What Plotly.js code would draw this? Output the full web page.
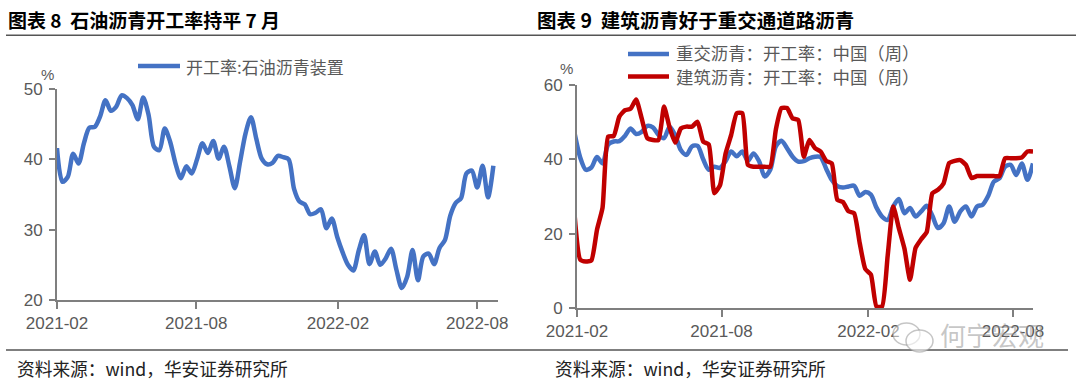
<!DOCTYPE html>
<html><head><meta charset="utf-8">
<script src="https://cdn.plot.ly/plotly-3.0.1.min.js"></script>
<style>html,body{margin:0;padding:0;background:#fff;} #chart{width:1080px;height:385px;}</style>
</head><body><div id="chart"></div>
<script>
// ---- Chart 8: weekly dates and values ----
const leftDates = [
'2021-02-01','2021-02-08','2021-02-15','2021-02-22','2021-03-01','2021-03-08','2021-03-15','2021-03-22','2021-03-29','2021-04-05',
'2021-04-12','2021-04-19','2021-04-26','2021-05-03','2021-05-10','2021-05-17','2021-05-24','2021-05-31','2021-06-07','2021-06-14',
'2021-06-21','2021-06-28','2021-07-05','2021-07-12','2021-07-19','2021-07-26','2021-08-02','2021-08-09','2021-08-16','2021-08-23',
'2021-08-30','2021-09-06','2021-09-13','2021-09-20','2021-09-27','2021-10-04','2021-10-11','2021-10-18','2021-10-25','2021-11-01',
'2021-11-08','2021-11-15','2021-11-22','2021-11-29','2021-12-06','2021-12-13','2021-12-20','2021-12-27','2022-01-03','2022-01-10',
'2022-01-17','2022-01-24','2022-01-31','2022-02-07','2022-02-14','2022-02-21','2022-02-28','2022-03-07','2022-03-14','2022-03-21',
'2022-03-28','2022-04-04','2022-04-11','2022-04-18','2022-04-25','2022-05-02','2022-05-09','2022-05-16','2022-05-23','2022-05-30',
'2022-06-06','2022-06-13','2022-06-20','2022-06-27','2022-07-04','2022-07-11','2022-07-18','2022-07-25','2022-08-01','2022-08-08',
'2022-08-15','2022-08-22'];
const petroRate = [
41.6,36.8,37.5,40.8,39.4,42.3,44.5,44.6,46.1,48.4,
46.9,47.5,49.1,48.7,47.7,45.7,48.8,46.3,41.8,41.3,
44.4,42.5,39.4,37.3,39.0,38.0,40.0,42.3,40.9,42.6,
40.1,41.8,39.0,35.9,39.7,43.7,46.0,42.9,40.1,39.3,
39.5,40.5,40.3,40.0,35.8,34.0,33.6,32.2,32.4,32.9,
30.2,31.6,29.0,26.8,25.0,24.2,27.0,29.2,25.1,26.9,
25.0,25.9,27.3,24.3,21.7,23.3,27.1,22.8,26.2,26.6,
25.1,27.4,28.5,32.0,33.8,34.5,38.0,38.4,36.0,39.1,
34.6,39.1];

// ---- Chart 9: weekly dates and values ----
const rightDates = [
'2021-01-29','2021-02-05','2021-02-12','2021-02-19','2021-02-26','2021-03-05','2021-03-12','2021-03-19','2021-03-26','2021-04-02',
'2021-04-09','2021-04-16','2021-04-23','2021-04-30','2021-05-07','2021-05-14','2021-05-21','2021-05-28','2021-06-04','2021-06-11',
'2021-06-18','2021-06-25','2021-07-02','2021-07-09','2021-07-16','2021-07-23','2021-07-30','2021-08-06','2021-08-13','2021-08-20',
'2021-08-27','2021-09-03','2021-09-10','2021-09-17','2021-09-24','2021-10-01','2021-10-08','2021-10-15','2021-10-22','2021-10-29',
'2021-11-05','2021-11-12','2021-11-19','2021-11-26','2021-12-03','2021-12-10','2021-12-17','2021-12-24','2021-12-31','2022-01-07',
'2022-01-14','2022-01-21','2022-01-28','2022-02-04','2022-02-11','2022-02-18','2022-02-25','2022-03-04','2022-03-11','2022-03-18',
'2022-03-25','2022-04-01','2022-04-08','2022-04-15','2022-04-22','2022-04-29','2022-05-06','2022-05-13','2022-05-20','2022-05-27',
'2022-06-03','2022-06-10','2022-06-17','2022-06-24','2022-07-01','2022-07-08','2022-07-15','2022-07-22','2022-07-29','2022-08-05',
'2022-08-12','2022-08-19','2022-08-26'];
const heavyRate = [
47.0,40.5,37.2,37.8,40.6,38.9,44.0,44.8,44.9,46.3,
48.3,46.8,47.4,49.0,48.6,46.6,45.7,48.8,46.5,42.5,
41.2,43.5,43.6,40.0,37.2,38.0,37.7,39.5,42.1,40.8,
42.1,39.6,41.6,39.5,35.4,37.2,43.5,45.0,43.0,40.7,
39.4,39.5,40.3,40.7,40.6,37.5,34.5,32.8,32.4,32.7,
32.9,30.2,31.2,30.5,27.0,24.6,23.7,27.3,29.3,25.5,
26.9,24.6,26.0,27.5,24.8,21.5,22.8,27.3,23.2,26.0,
27.3,24.6,27.3,27.8,30.2,34.0,34.9,38.0,38.5,35.8,
38.9,34.5,38.9];
const buildRate = [
25.0,13.0,12.5,12.8,21.0,27.0,46.1,46.3,51.5,53.2,
53.6,56.1,51.0,45.7,45.2,45.2,54.2,48.5,44.5,48.3,
48.8,48.8,50.1,44.8,44.0,30.9,33.0,41.5,46.5,52.4,
52.4,38.5,38.0,38.0,38.0,38.0,48.0,53.8,53.8,51.0,
50.6,40.7,45.2,43.0,42.1,39.6,38.9,29.1,28.5,26.0,
25.5,17.5,10.5,9.0,0.4,0.4,14.0,27.3,21.5,16.0,
7.6,16.2,18.5,20.5,30.9,31.8,33.5,39.0,39.6,39.8,
38.5,35.0,35.5,35.5,35.5,35.5,35.5,40.3,40.3,40.3,
40.5,42.1,42.1];

const tickVals = ['2021-02-01','2021-08-01','2022-02-01','2022-08-01'];
const tickText = ['2021-02','2021-08','2022-02','2022-08'];
const leftTitle = '图表 8  石油沥青开工率持平 7 月';
const rightTitle = '图表 9  建筑沥青好于重交通道路沥青';
const leftName = '开工率:石油沥青装置';
const heavyName = '重交沥青：开工率：中国（周）';
const buildName = '建筑沥青：开工率：中国（周）';
const sourceText = '资料来源：wind，华安证券研究所';

const W = 1080, H = 385;
const px = x => x / W, py = y => 1 - y / H;
const BLUE = '#4472C4', RED = '#C00000', AX = '#7f7f7f', TXT = '#595959';
const CJK = '"Noto Sans CJK SC", sans-serif';
const LAT = '"Liberation Sans", Arial, sans-serif';

const traces = [
  {x: leftDates, y: petroRate, type: 'scatter', mode: 'lines', xaxis: 'x', yaxis: 'y',
   line: {color: BLUE, width: 4.5, shape: 'spline', smoothing: 0.8}, name: leftName, showlegend: false},
  {x: rightDates, y: heavyRate, type: 'scatter', mode: 'lines', xaxis: 'x2', yaxis: 'y2',
   line: {color: BLUE, width: 4.5, shape: 'spline', smoothing: 0.8}, name: heavyName, showlegend: false},
  {x: rightDates, y: buildRate, type: 'scatter', mode: 'lines', xaxis: 'x2', yaxis: 'y2',
   line: {color: RED, width: 4.5, shape: 'spline', smoothing: 0.5}, name: buildName, showlegend: false}
];

const xCommon = {type: 'date', tickmode: 'array', tickvals: tickVals, ticktext: tickText,
  showgrid: false, zeroline: false, showline: true, linecolor: AX, linewidth: 2,
  ticks: 'outside', ticklen: 7, tickwidth: 2, tickcolor: AX,
  tickfont: {family: LAT, size: 17, color: TXT}, ticklabelstandoff: 0, fixedrange: true};
const yCommon = {showgrid: false, zeroline: false, showline: true, linecolor: AX, linewidth: 2,
  ticks: 'outside', ticklen: 6, tickwidth: 2, tickcolor: AX,
  tickfont: {family: LAT, size: 17, color: TXT}, ticklabelstandoff: 3, fixedrange: true};

const ann = (text, x, y, size, color, extra) => Object.assign({
  text, x: px(x), y: py(y), xref: 'paper', yref: 'paper', xanchor: 'left', yanchor: 'middle',
  showarrow: false, font: {family: CJK, size, color}, borderpad: 0}, extra || {});

const layout = {
  width: W, height: H, margin: {l: 0, r: 0, t: 0, b: 0},
  paper_bgcolor: '#fff', plot_bgcolor: '#fff', showlegend: false,
  xaxis: Object.assign({}, xCommon, {domain: [px(57), px(498)], range: ['2021-02-01', '2022-08-28'], anchor: 'y'}),
  yaxis: Object.assign({}, yCommon, {domain: [py(300), py(89)], range: [20, 50], dtick: 10, anchor: 'x'}),
  xaxis2: Object.assign({}, xCommon, {domain: [px(577), px(1033)], range: ['2021-02-01', '2022-08-26'], anchor: 'y2'}),
  yaxis2: Object.assign({}, yCommon, {domain: [py(308), py(85)], range: [0, 60], dtick: 20, anchor: 'x2'}),
  shapes: [
    {type: 'line', xref: 'paper', yref: 'paper', x0: px(6), x1: px(1076), y0: py(35.3), y1: py(35.3), line: {color: '#555', width: 1.5}},
    {type: 'line', xref: 'paper', yref: 'paper', x0: px(6), x1: px(1068), y0: py(350), y1: py(350), line: {color: '#555', width: 1.5}},
    {type: 'line', xref: 'paper', yref: 'paper', x0: px(138), x1: px(180), y0: py(66), y1: py(66), line: {color: BLUE, width: 4.5}},
    {type: 'line', xref: 'paper', yref: 'paper', x0: px(628), x1: px(669), y0: py(54), y1: py(54), line: {color: BLUE, width: 4.5}},
    {type: 'line', xref: 'paper', yref: 'paper', x0: px(628), x1: px(669), y0: py(76.5), y1: py(76.5), line: {color: RED, width: 4.5}},
    {type: 'circle', xref: 'paper', yref: 'paper', x0: px(893), x1: px(920), y0: py(345), y1: py(323), line: {color: 'rgba(150,150,150,0.55)', width: 1.5}, fillcolor: 'rgba(255,255,255,0.5)'},
    {type: 'circle', xref: 'paper', yref: 'paper', x0: px(906), x1: px(933), y0: py(352), y1: py(330), line: {color: 'rgba(150,150,150,0.55)', width: 1.5}, fillcolor: 'rgba(255,255,255,0.6)'}
  ],
  annotations: [
    ann('<b>' + leftTitle + '</b>', 7, 19.5, 19, '#000'),
    ann('<b>' + rightTitle + '</b>', 536, 19.5, 19.5, '#000'),
    ann(leftName, 185, 66, 17, TXT),
    ann(heavyName, 675, 53, 17.4, TXT),
    ann(buildName, 675, 76, 17.4, TXT),
    ann('%', 40, 74, 15, TXT, {font: {family: LAT, size: 15, color: TXT}}),
    ann('%', 559, 69, 15, TXT, {font: {family: LAT, size: 15, color: TXT}}),
    ann(sourceText, 16, 368, 17.7, '#222'),
    ann(sourceText, 554, 368, 17.7, '#222'),
    ann('何宁宏观', 939, 334, 26, 'rgba(150,150,150,0.55)')
  ]
};

Plotly.newPlot('chart', traces, layout, {staticPlot: true, displayModeBar: false});
</script>
</body></html>
